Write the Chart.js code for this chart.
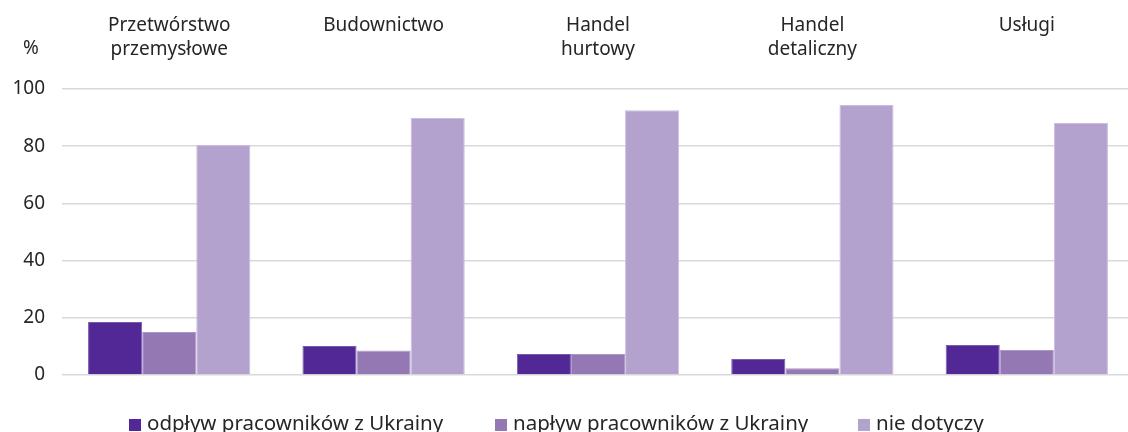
<!DOCTYPE html>
<html><head><meta charset="utf-8">
<script src="https://cdn.jsdelivr.net/npm/chart.js@4.4.1/dist/chart.umd.min.js"></script>
<style>html,body{margin:0;padding:0;background:#fff;overflow:hidden}#wrap{width:1128px;height:432px;position:relative;overflow:hidden}canvas{display:block}</style>
</head><body><div id="wrap"><canvas id="c" width="1134" height="432" style="width:1134px;height:432px"></canvas></div>
<script>
const categories = [["Przetwórstwo","przemysłowe"],["Budownictwo"],["Handel","hurtowy"],["Handel","detaliczny"],["Usługi"]];
const seriesNames = ["odpływ pracowników z Ukrainy","napływ pracowników z Ukrainy","nie dotyczy"];
const odplyw = [18.5, 10.1, 7.3, 5.6, 10.5];
const naplyw = [15.0, 8.6, 7.3, 2.4, 8.7];
const nieDotyczy = [80.4, 89.9, 92.6, 94.4, 88.1];
const yTicks = [0, 20, 40, 60, 80, 100];
const colors = ["#522796", "#9478b3", "#b4a2ce"];
const borders = ["#7a5aae", "#ad97c8", "#cbbde0"];

const FONT = "'Noto Sans', 'Open Sans', sans-serif";

const extras = {
  id: 'extras',
  afterDraw(chart) {
    const ctx = chart.ctx;
    ctx.save();
    ctx.fillStyle = '#262626';
    ctx.font = '19px ' + FONT;
    ctx.textAlign = 'center';
    ctx.textBaseline = 'middle';
    ctx.fillText('%', 31, 49);
    // legend
    ctx.font = '20.5px ' + FONT;
    ctx.textAlign = 'left';
    ctx.textBaseline = 'alphabetic';
    const starts = [129, 495, 858];
    chart.data.datasets.forEach((ds, i) => {
      ctx.fillStyle = ds.backgroundColor;
      ctx.fillRect(starts[i], 419, 12, 12);
      ctx.fillStyle = '#262626';
      ctx.fillText(ds.label, starts[i] + 18, 430);
    });
    ctx.restore();
  }
};

new Chart(document.getElementById('c'), {
  type: 'bar',
  data: {
    labels: categories,
    datasets: [
      {label: seriesNames[0], data: odplyw, backgroundColor: colors[0], borderColor: borders[0], borderWidth: 1},
      {label: seriesNames[1], data: naplyw, backgroundColor: colors[1], borderColor: borders[1], borderWidth: 1},
      {label: seriesNames[2], data: nieDotyczy, backgroundColor: colors[2], borderColor: borders[2], borderWidth: 1}
    ]
  },
  options: {
    responsive: false,
    animation: false,
    devicePixelRatio: 1,
    layout: {padding: {top: 0, left: 0, right: 0, bottom: 57}},
    plugins: {legend: {display: false}, tooltip: {enabled: false}},
    datasets: {bar: {categoryPercentage: 0.757, barPercentage: 1.0}},
    scales: {
      x: {
        position: 'top',
        grid: {display: false, drawTicks: false},
        border: {display: false},
        ticks: {font: {family: FONT, size: 19, lineHeight: 1.25}, color: '#262626', padding: 28, maxRotation: 0, crossAlign: 'far'},
        afterFit(scale) { scale.height = 89; }
      },
      y: {
        min: 0, max: 100,
        afterBuildTicks(scale) { scale.ticks = yTicks.map(v => ({value: v})); },
        grid: {color: '#d9d9d9', lineWidth: 1.5, drawTicks: false},
        border: {display: false},
        ticks: {font: {family: FONT, size: 19}, color: '#262626', padding: 17},
        afterFit(scale) { scale.width = 62; }
      }
    }
  },
  plugins: [extras]
});
</script></body></html>
